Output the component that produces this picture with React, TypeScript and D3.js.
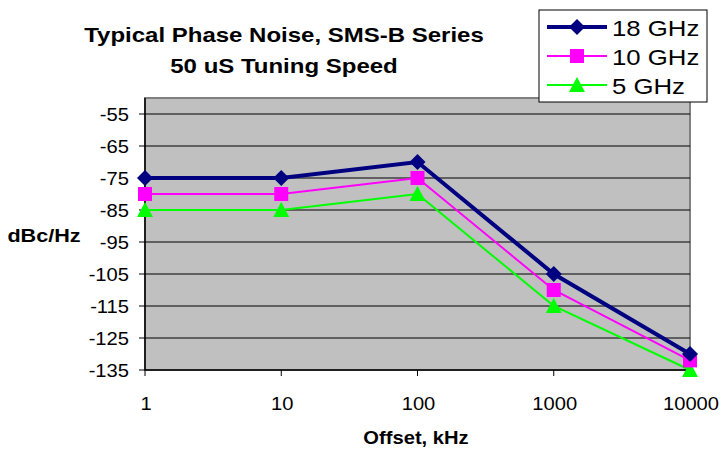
import React from "react";
import * as d3 from "d3";

const categories = ["1", "10", "100", "1000", "10000"];
const series18 = [-75, -75, -70, -105, -130];
const series10 = [-80, -80, -75, -110, -132];
const series5 = [-85, -85, -80, -115, -135];
const yTicks = [-55, -65, -75, -85, -95, -105, -115, -125, -135];
const seriesNames = ["18 GHz", "10 GHz", "5 GHz"];

const W = 721, H = 451;
const L = 145, R = 690, T = 98, B = 370;
const FONT = "'Liberation Sans', Arial, sans-serif";

function T2(props: { x: number; y: number; sx: number; size: number; anchor?: string; bold?: boolean; children: React.ReactNode }) {
  return (
    <text
      transform={`translate(${props.x},${props.y}) scale(${props.sx},1)`}
      textAnchor={props.anchor || "start"}
      fontSize={props.size}
      fontWeight={props.bold ? "bold" : "normal"}
    >
      {props.children}
    </text>
  );
}

export default function App() {
  const x = d3.scalePoint<string>().domain(categories).range([L, R]);
  const y = d3.scaleLinear().domain([-135, -50]).range([B, T]);
  const line = d3.line<number>().x((_, i) => x(categories[i]) as number).y((d) => y(d));

  const series = [
    { name: seriesNames[0], data: series18, color: "#000080", width: 4, marker: "diamond" },
    { name: seriesNames[1], data: series10, color: "#FF00FF", width: 2, marker: "square" },
    { name: seriesNames[2], data: series5, color: "#00FF00", width: 2, marker: "triangle" },
  ];

  const marker = (type: string, cx: number, cy: number, color: string, key: string) => {
    if (type === "diamond") {
      const s = 8;
      return <path key={key} d={`M${cx},${cy - s}L${cx + s},${cy}L${cx},${cy + s}L${cx - s},${cy}Z`} fill={color} />;
    }
    if (type === "square") {
      const s = 7;
      return <rect key={key} x={cx - s} y={cy - s} width={2 * s} height={2 * s} fill={color} />;
    }
    const s = 8;
    return <path key={key} d={`M${cx},${cy - s}L${cx + s},${cy + s - 1}L${cx - s},${cy + s - 1}Z`} fill={color} />;
  };

  return (
    <svg width={W} height={H} style={{ position: "absolute", left: 0, top: 0 }} fontFamily={FONT}>
      <rect x={0} y={0} width={W} height={H} fill="#fff" />
      <T2 x={284} y={42} sx={1.2} size={20} anchor="middle" bold>Typical Phase Noise, SMS-B Series</T2>
      <T2 x={284} y={73} sx={1.2} size={20} anchor="middle" bold>50 uS Tuning Speed</T2>
      <rect x={L} y={T} width={R - L} height={B - T} fill="#C0C0C0" stroke="#808080" strokeWidth={2} />
      {yTicks.map((t) => (
        <g key={t}>
          {t !== -135 && <line x1={L} x2={R} y1={y(t)} y2={y(t)} stroke="#000" strokeWidth={1} />}
          <line x1={L - 6} x2={L} y1={y(t)} y2={y(t)} stroke="#000" strokeWidth={1} />
          <T2 x={129} y={y(t) + 6.5} sx={1.12} size={18} anchor="end">{t}</T2>
        </g>
      ))}
      <line x1={L} x2={L} y1={T} y2={B} stroke="#000" strokeWidth={1.5} />
      <line x1={L} x2={R} y1={B} y2={B} stroke="#000" strokeWidth={1.5} />
      {categories.map((c) => (
        <g key={c}>
          <line x1={x(c)} x2={x(c)} y1={B} y2={B + 6} stroke="#000" strokeWidth={1} />
          <T2 x={(x(c) as number) + 1} y={B + 40} sx={1.12} size={18} anchor="middle">{c}</T2>
        </g>
      ))}
      <T2 x={416} y={444} sx={1.12} size={18} anchor="middle" bold>Offset, kHz</T2>
      <T2 x={44} y={242} sx={1.2} size={18} anchor="middle" bold>dBc/Hz</T2>
      {series.slice().reverse().map((s) => (
        <g key={s.name}>
          <path d={line(s.data) as string} fill="none" stroke={s.color} strokeWidth={s.width} />
          {s.data.map((v, i) => marker(s.marker, x(categories[i]) as number, y(v), s.color, s.name + i))}
        </g>
      ))}
      <rect x={539} y={10} width={168} height={92} fill="#fff" stroke="#000" strokeWidth={1} />
      {series.map((s, i) => {
        const cy = 27 + i * 29;
        return (
          <g key={s.name}>
            <line x1={547} x2={607} y1={cy} y2={cy} stroke={s.color} strokeWidth={s.width} />
            {marker(s.marker, 577, cy, s.color, "lg" + i)}
            <T2 x={612} y={cy + 8.5} sx={1.12} size={23}>{s.name}</T2>
          </g>
        );
      })}
    </svg>
  );
}
